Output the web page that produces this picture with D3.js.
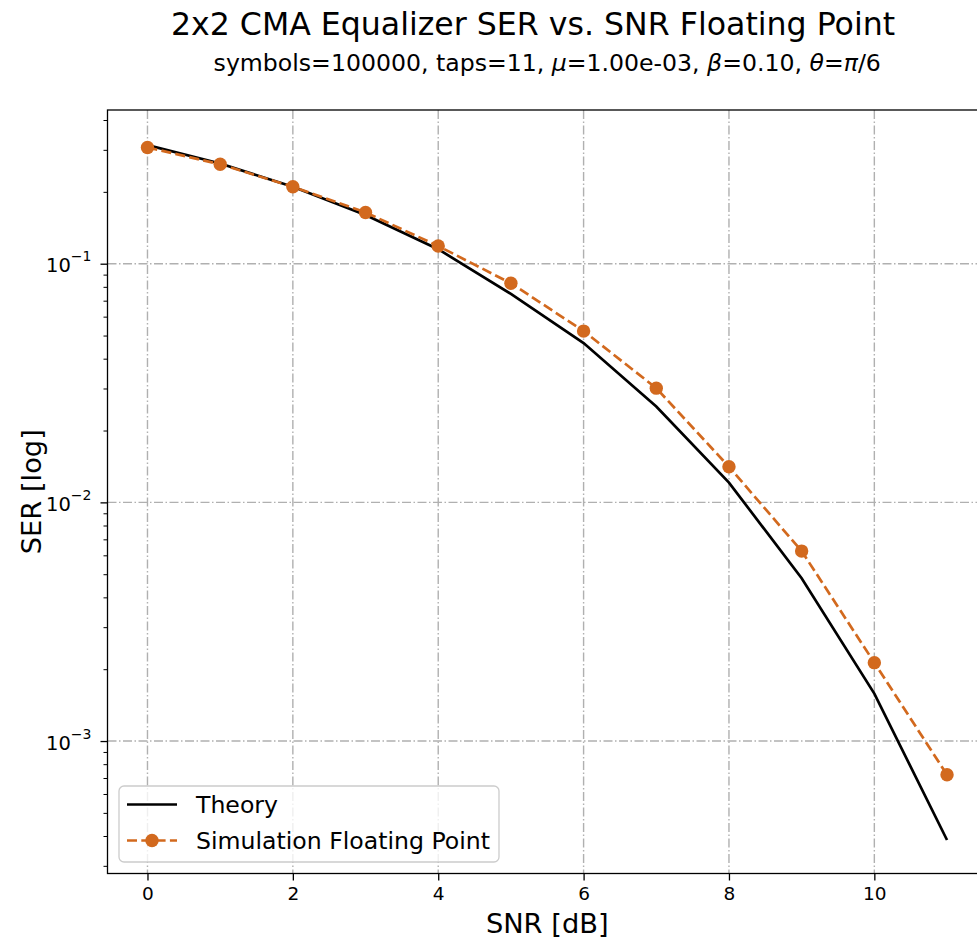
<!DOCTYPE html>
<html>
<head>
<meta charset="utf-8">
<script src="https://cdn.jsdelivr.net/npm/d3@7"></script>
<style>
  body { margin: 0; background: #fff; }
  svg { font-family: "DejaVu Sans", sans-serif; }
</style>
</head>
<body>
<div id="chart"></div>
<script>
// Dữ liệu
const snrDb = [0, 1, 2, 3, 4, 5, 6, 7, 8, 9, 10, 11];
const serTheory = [0.314, 0.263, 0.210, 0.160, 0.115, 0.0747, 0.0465, 0.0252, 0.0121, 0.00481, 0.00158, 0.000385];
const serSim = [0.307, 0.261, 0.210, 0.164, 0.1186, 0.0828, 0.0522, 0.0301, 0.0141, 0.00625, 0.00213, 0.000722];
const xTicks = [0, 2, 4, 6, 8, 10];
const yMajorExp = [-1, -2, -3];
const seriesNames = ["Theory", "Simulation Floating Point"];

const W = 977, H = 942;
const pL = 107.5, pR = 987, pT = 110, pB = 873.5;
const orange = "#d2691e";

const svg = d3.select("#chart").append("svg")
  .attr("width", W).attr("height", H);

// Scales
const x = d3.scaleLinear().domain([-0.55, 11.55]).range([pL, pR]);
const y = d3.scaleLog().domain([Math.pow(10, -3.555), Math.pow(10, -0.356)]).range([pB, pT]);

// Minor ticks (2..9 x 10^n) trong khoảng domain
const [yLo, yHi] = y.domain();
const minorTicks = [];
for (let e = -4; e <= 0; e++) {
  for (let k = 2; k <= 9; k++) {
    const v = k * Math.pow(10, e);
    if (v >= yLo && v <= yHi) minorTicks.push(v);
  }
}
const majorTicks = yMajorExp.map(e => Math.pow(10, e));

// Grid
const grid = svg.append("g")
  .attr("stroke", "#b0b0b0").attr("stroke-width", 1.4)
  .attr("stroke-dasharray", "9,2.5,1.5,2.5");
grid.selectAll("line.gx").data(xTicks).enter().append("line")
  .attr("x1", d => x(d)).attr("x2", d => x(d))
  .attr("y1", pT).attr("y2", pB);
grid.selectAll("line.gy").data(majorTicks).enter().append("line")
  .attr("x1", pL).attr("x2", pR)
  .attr("y1", d => y(d)).attr("y2", d => y(d));

// Lines
const line = d3.line().x((d, i) => x(snrDb[i])).y(d => y(d));
svg.append("path").datum(serTheory)
  .attr("d", line).attr("fill", "none")
  .attr("stroke", "#000").attr("stroke-width", 2.7);
svg.append("path").datum(serSim)
  .attr("d", line).attr("fill", "none")
  .attr("stroke", orange).attr("stroke-width", 2.7)
  .attr("stroke-dasharray", "10,4.3");
svg.selectAll("circle.sim").data(serSim).enter().append("circle")
  .attr("class", "sim")
  .attr("cx", (d, i) => x(snrDb[i])).attr("cy", d => y(d))
  .attr("r", 6.7).attr("fill", orange);

// Spines
svg.append("rect")
  .attr("x", pL).attr("y", pT)
  .attr("width", pR - pL).attr("height", pB - pT)
  .attr("fill", "none").attr("stroke", "#000").attr("stroke-width", 1.3);

// X axis
const xAxis = svg.append("g")
  .attr("transform", `translate(0,${pB})`)
  .call(d3.axisBottom(x).tickValues(xTicks).tickSize(7).tickPadding(6).tickFormat(d3.format("d")));
xAxis.select(".domain").remove();
xAxis.selectAll("line").attr("stroke-width", 1.3);
xAxis.selectAll("text").attr("font-size", 18.5).attr("font-family", "DejaVu Sans").attr("fill", "#000");

// Y axis major
const yAxis = svg.append("g")
  .attr("transform", `translate(${pL},0)`)
  .call(d3.axisLeft(y).tickValues(majorTicks).tickSize(7).tickPadding(9).tickFormat(""));
yAxis.select(".domain").remove();
yAxis.selectAll("line").attr("stroke-width", 1.3);
yAxis.selectAll(".tick").each(function(d) {
  const t = d3.select(this).select("text")
    .attr("font-size", 19.5).attr("font-family", "DejaVu Sans").attr("fill", "#000")
    .attr("dy", "0.42em");
  t.text("10");
  t.append("tspan").attr("font-size", 14).attr("dy", "-0.8em")
    .text("\u2212" + Math.abs(Math.round(Math.log10(d))));
});

// Y axis minor
const yMinor = svg.append("g")
  .attr("transform", `translate(${pL},0)`)
  .call(d3.axisLeft(y).tickValues(minorTicks).tickSize(4).tickFormat(""));
yMinor.select(".domain").remove();
yMinor.selectAll("line").attr("stroke-width", 1);

// Axis labels
svg.append("text")
  .attr("x", (pL + pR) / 2).attr("y", 933)
  .attr("text-anchor", "middle").attr("font-size", 27.3)
  .text("SNR [dB]");
svg.append("text")
  .attr("transform", `translate(41,${(pT + pB) / 2}) rotate(-90)`)
  .attr("text-anchor", "middle").attr("font-size", 27.3)
  .text("SER [log]");

// Titles
svg.append("text")
  .attr("x", 533).attr("y", 35)
  .attr("text-anchor", "middle").attr("font-size", 31.6)
  .text("2x2 CMA Equalizer SER vs. SNR Floating Point");
const sub = svg.append("text")
  .attr("x", (pL + pR) / 2).attr("y", 71)
  .attr("text-anchor", "middle").attr("font-size", 23.6);
[["symbols=100000, taps=11, ", false], ["\u03bc", true], ["=1.00e-03, ", false],
 ["\u03b2", true], ["=0.10, ", false], ["\u03b8", true], ["=", false], ["\u03c0", true], ["/6", false]]
  .forEach(([s, it]) => sub.append("tspan").attr("font-style", it ? "italic" : "normal").text(s));

// Legend
const lg = svg.append("g");
lg.append("rect")
  .attr("x", 119).attr("y", 786).attr("width", 380).attr("height", 76)
  .attr("rx", 5).attr("fill", "#fff").attr("fill-opacity", 0.8)
  .attr("stroke", "#cccccc").attr("stroke-width", 1.3);
const rowY = [804.5, 840.5];
lg.append("line").attr("x1", 127).attr("x2", 177).attr("y1", rowY[0]).attr("y2", rowY[0])
  .attr("stroke", "#000").attr("stroke-width", 2.7);
lg.append("line").attr("x1", 127).attr("x2", 177).attr("y1", rowY[1]).attr("y2", rowY[1])
  .attr("stroke", orange).attr("stroke-width", 2.7).attr("stroke-dasharray", "10,4.3");
lg.append("circle").attr("cx", 152).attr("cy", rowY[1]).attr("r", 6.7).attr("fill", orange);
lg.selectAll("text.lt").data(seriesNames).enter().append("text")
  .attr("x", 196).attr("y", (d, i) => rowY[i] + 8.5)
  .attr("font-size", 23.6).text(d => d);
</script>
</body>
</html>
